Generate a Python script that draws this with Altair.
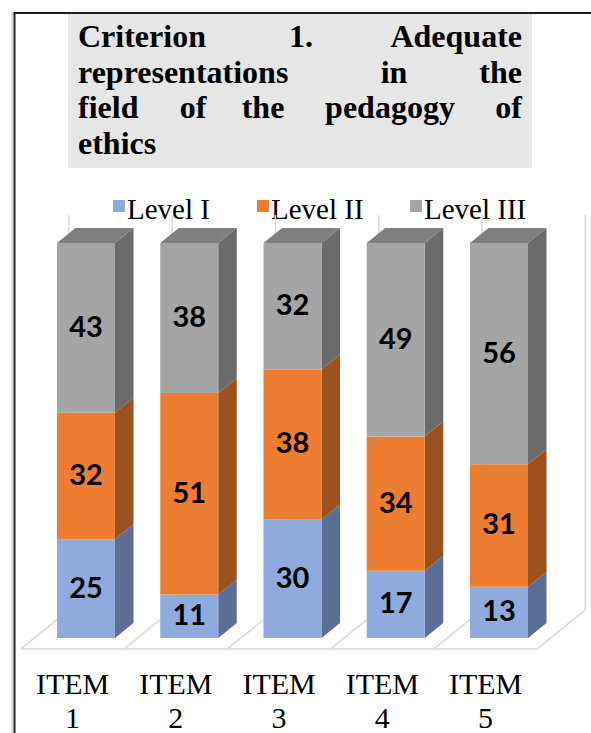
import altair as alt
import pandas as pd

# ---- chart values -------------------------------------------------------
items = ["ITEM 1", "ITEM 2", "ITEM 3", "ITEM 4", "ITEM 5"]
levels = ["Level I", "Level II", "Level III"]
level_i = [25, 11, 30, 17, 13]
level_ii = [32, 51, 38, 34, 31]
level_iii = [43, 38, 32, 49, 56]
series = [level_i, level_ii, level_iii]

# ---- colours ------------------------------------------------------------
front_colors = ["#8faadc", "#ed7d31", "#a5a5a5"]
side_colors = ["#5b6e95", "#9c521f", "#6b6b6b"]
top_color = "#7f7f7f"
grid_color = "#d9d9d9"

# ---- oblique 3-D projection (data units) --------------------------------
DX, DY = 0.465, 9.87        # shift across the full floor depth
F0, F1 = 0.28, 0.665        # depth of the column front / back planes
HW = 0.281                  # half width of a column face
BDX, BDY = (F1 - F0) * DX, (F1 - F0) * DY
FLOOR_X, FLOOR_Y = -F0 * DX, -F0 * DY
BACK_TOP = 100 + (1 - F0) * DY

xs = alt.Scale(domain=[0.1671, 5.891], nice=False, zero=False)
ys = alt.Scale(domain=[-24.05, 161.52], nice=False, zero=False)


def X(field):
    return alt.X(field, type="quantitative", scale=xs, axis=None, stack=None)


def Y(field):
    return alt.Y(field, type="quantitative", scale=ys, axis=None, stack=None)


# ---- build geometry tables from the values ------------------------------
front_rows, side_rows, top_rows = [], [], []
for idx, name in enumerate(items):
    pos = idx + 1
    base = 0
    for k, vals in enumerate(series):
        v = vals[idx]
        lo, hi = base, base + v
        key = f"{k}-{idx}"
        front_rows.append(dict(x0=pos - HW, x1=pos + HW, xm=pos, lo=lo, hi=hi,
                               mid=(lo + hi) / 2, val=v, c=front_colors[k]))
        side_rows.append(dict(key=key, x=pos + HW, lo=lo, hi=hi, c=side_colors[k]))
        side_rows.append(dict(key=key, x=pos + HW + BDX, lo=lo + BDY, hi=hi + BDY,
                              c=side_colors[k]))
        base = hi
    top_rows.append(dict(key=str(idx), y=base, xl=pos - HW, xr=pos + HW))
    top_rows.append(dict(key=str(idx), y=base + BDY, xl=pos - HW + BDX,
                         xr=pos + HW + BDX))

front_df = pd.DataFrame(front_rows)
side_df = pd.DataFrame(side_rows)
top_df = pd.DataFrame(top_rows)

bounds = [b + 0.5 for b in range(len(items) + 1)]
floor_df = pd.DataFrame(
    [dict(x=bounds[0] + FLOOR_X, x2=bounds[-1] + FLOOR_X, y=FLOOR_Y, y2=FLOOR_Y)]
    + [dict(x=b + FLOOR_X, x2=b + FLOOR_X + DX, y=FLOOR_Y, y2=FLOOR_Y + DY)
       for b in bounds]
)
wall_df = pd.DataFrame(
    [dict(x=b + FLOOR_X + DX, x2=b + FLOOR_X + DX, y=FLOOR_Y + DY, y2=BACK_TOP)
     for b in bounds]
)
label_df = pd.DataFrame(dict(x=[i + 1 + FLOOR_X for i in range(len(items))],
                             name=items))

one = pd.DataFrame({"t": [0]})
layers = []

# ---- frame --------------------------------------------------------------
layers.append(alt.Chart(one).mark_rule(color="#c8c8c8", strokeWidth=1).encode(
    x=alt.value(12), y=alt.value(12), y2=alt.value(733)))
layers.append(alt.Chart(one).mark_rule(color="#1e1e1e", strokeWidth=2).encode(
    x=alt.value(14.5), y=alt.value(12.5), y2=alt.value(733)))
layers.append(alt.Chart(one).mark_rule(color="#1e1e1e", strokeWidth=2).encode(
    x=alt.value(13.5), x2=alt.value(591), y=alt.value(13)))

# ---- title (justified lines in a shaded box) ----------------------------
layers.append(alt.Chart(one).mark_rect(color="#e6e6e6").encode(
    x=alt.value(68), x2=alt.value(532), y=alt.value(14), y2=alt.value(168)))

title_words = [
    ("Criterion", 78, 47, "left"), ("1.", 301, 47, "center"), ("Adequate", 522, 47, "right"),
    ("representations", 78, 83, "left"), ("in", 394, 83, "center"), ("the", 522, 83, "right"),
    ("field", 78, 118, "left"), ("of", 193, 118, "center"), ("the", 263, 118, "center"),
    ("pedagogy", 390, 118, "center"), ("of", 522, 118, "right"),
    ("ethics", 78, 154, "left"),
]
for word, wx, wy, al in title_words:
    layers.append(alt.Chart(one).mark_text(
        text=word, font="Liberation Serif", fontSize=32, fontWeight="bold",
        color="#000000", align=al, baseline="alphabetic").encode(
        x=alt.value(wx), y=alt.value(wy)))

# ---- legend -------------------------------------------------------------
legend_x = [127, 271, 424]
for k, name in enumerate(levels):
    layers.append(alt.Chart(one).mark_rect(color=front_colors[k]).encode(
        x=alt.value(legend_x[k] - 14), x2=alt.value(legend_x[k] - 2),
        y=alt.value(200), y2=alt.value(212)))
    layers.append(alt.Chart(one).mark_text(
        text=name, font="Liberation Serif", fontSize=29, color="#000000",
        align="left", baseline="alphabetic").encode(
        x=alt.value(legend_x[k]), y=alt.value(219)))

# ---- back wall and floor ------------------------------------------------
layers.append(alt.Chart(wall_df).mark_rule(color=grid_color, strokeWidth=1.5).encode(
    x=X("x"), x2="x2", y=Y("y"), y2="y2"))
layers.append(alt.Chart(floor_df).mark_rule(color=grid_color, strokeWidth=1.5).encode(
    x=X("x"), x2="x2", y=Y("y"), y2="y2"))

# ---- 3-D columns --------------------------------------------------------
layers.append(alt.Chart(side_df).mark_area(interpolate="linear", opacity=1).encode(
    x=X("x"), y=Y("lo"), y2="hi", detail="key:N",
    color=alt.Color("c:N", scale=None)))
layers.append(alt.Chart(top_df).mark_area(orient="horizontal", interpolate="linear",
                                          opacity=1, color=top_color).encode(
    y=Y("y"), x=X("xl"), x2="xr", detail="key:N"))
layers.append(alt.Chart(front_df).mark_rect().encode(
    x=X("x0"), x2="x1", y=Y("lo"), y2="hi", color=alt.Color("c:N", scale=None)))

# ---- value labels -------------------------------------------------------
layers.append(alt.Chart(front_df).mark_text(
    font="Lato", fontSize=29, fontWeight="bold", color="#000000",
    align="center", baseline="middle").encode(
    x=X("xm"), y=Y("mid"), text="val:Q"))

# ---- category labels ----------------------------------------------------
layers.append(alt.Chart(label_df).mark_text(
    font="Liberation Serif", fontSize=30, color="#000000", align="center",
    baseline="alphabetic", lineBreak=" ", lineHeight=34).encode(
    x=X("x"), y=alt.value(694), text="name:N"))

chart = alt.layer(*layers).properties(
    width=591, height=733, padding=0,
    autosize=alt.AutoSizeParams(type="none"),
    background="#ffffff",
).configure_view(stroke=None)

chart.save("out.html", embed_options={"renderer": "svg", "actions": False})
